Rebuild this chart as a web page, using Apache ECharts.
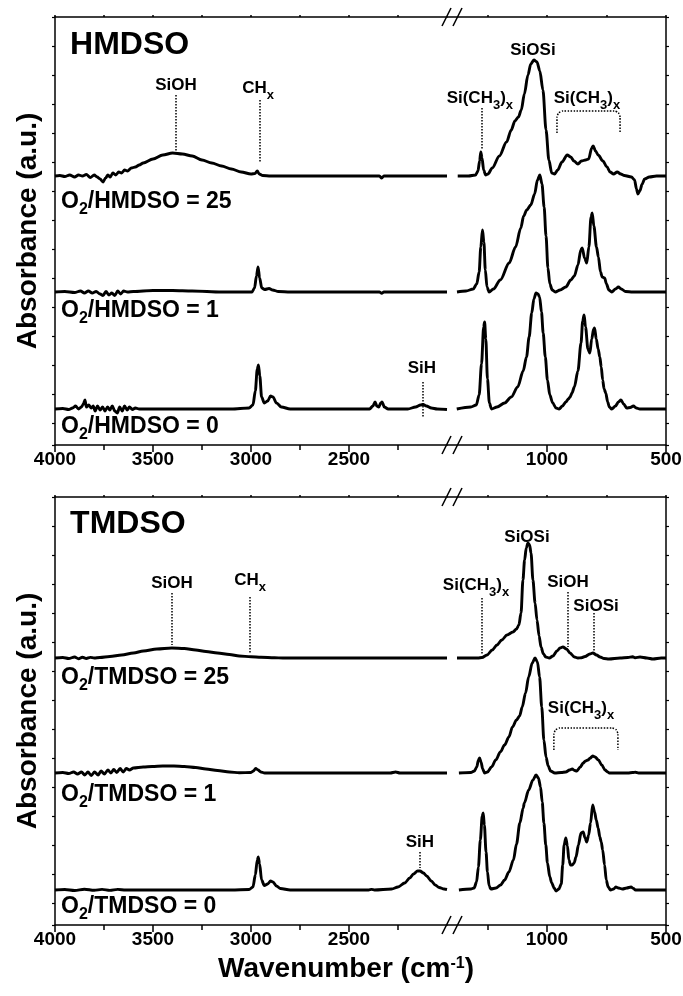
<!DOCTYPE html>
<html><head><meta charset="utf-8">
<script src="https://cdn.jsdelivr.net/npm/echarts@6/dist/echarts.min.js"></script>
<style>html,body{margin:0;padding:0;background:#fff}#c{width:683px;height:996px}</style>
</head><body><div id="c"></div>
<script>
// ---------------- DATA (wavenumber cm-1, absorbance a.u. relative to each trace baseline) ----------------
const leftMajorTicks = [2500, 3000, 3500, 4000];
const leftMinorTicks = [2250, 2750, 3250, 3750];
const rightMajorTicks = [500, 1000];
const rightMinorTicks = [750, 1250];

const hmdsoOffsets = [2.69, 1.53, 0.36];   // O2/HMDSO = 25, 1, 0
const tmdsoOffsets = [2.67, 1.52, 0.35];   // O2/TMDSO = 25, 1, 0

const hmdso25Left = [[4000,0],[3975,0.005],[3950,-0.005],[3925,0.01],[3900,-0.01],[3880,0.01],[3860,0],[3840,0.015],[3820,-0.015],[3800,0.01],[3785,-0.01],[3770,-0.03],[3755,-0.06],[3742,-0.02],[3730,0.01],[3718,-0.01],[3705,0.03],[3690,0.01],[3675,0.04],[3660,0.03],[3645,0.06],[3630,0.05],[3610,0.08],[3590,0.09],[3570,0.11],[3550,0.13],[3500,0.17],[3450,0.21],[3400,0.23],[3350,0.22],[3300,0.20],[3250,0.16],[3200,0.13],[3150,0.10],[3100,0.07],[3050,0.04],[3000,0.02],[2980,0.025],[2968,0.05],[2958,0.02],[2940,0.005],[2900,0],[2600,0],[2345,0],[2333,-0.02],[2322,0],[2000,0]];
const hmdso25Right = [[1375,0],[1330,0],[1300,0.01],[1290,0.05],[1283,0.15],[1278,0.24],[1273,0.18],[1266,0.06],[1258,0.01],[1248,0.02],[1230,0.08],[1200,0.20],[1170,0.34],[1150,0.46],[1135,0.55],[1120,0.59],[1108,0.66],[1095,0.82],[1080,1.01],[1068,1.12],[1055,1.16],[1042,1.14],[1030,1.05],[1017,0.86],[1004,0.46],[992,0.16],[980,0.03],[968,0.02],[955,0.06],[937,0.14],[915,0.21],[900,0.19],[887,0.15],[870,0.12],[855,0.15],[838,0.16],[825,0.17],[812,0.28],[806,0.30],[796,0.25],[785,0.21],[765,0.15],[748,0.09],[735,0.04],[720,0.02],[705,0.04],[690,0.02],[675,0.005],[645,-0.01],[632,-0.04],[624,-0.13],[618,-0.18],[610,-0.15],[600,-0.08],[590,-0.03],[570,-0.01],[540,0],[500,0]];

const hmdso1Left = [[4000,0],[3950,0.005],[3900,-0.005],[3870,0.01],[3850,-0.01],[3830,0.01],[3810,-0.01],[3790,0.005],[3770,-0.02],[3755,-0.035],[3740,0.005],[3725,-0.03],[3710,-0.01],[3695,-0.035],[3680,0.01],[3665,-0.02],[3650,0.01],[3630,0],[3600,0.005],[3500,0.015],[3400,0.015],[3300,0.01],[3150,0],[2995,0],[2982,0.04],[2972,0.16],[2964,0.25],[2956,0.14],[2945,0.04],[2930,0.025],[2908,0.035],[2890,0.02],[2860,0.005],[2800,0],[2345,0],[2333,-0.012],[2322,0],[2000,0]];
const hmdso1Right = [[1378,0],[1340,0.01],[1310,0.03],[1295,0.08],[1285,0.2],[1278,0.45],[1271,0.62],[1265,0.5],[1259,0.22],[1252,0.05],[1243,0],[1225,0.03],[1196,0.12],[1159,0.29],[1132,0.45],[1110,0.64],[1098,0.76],[1085,0.82],[1068,0.87],[1052,0.98],[1040,1.12],[1030,1.17],[1021,1.08],[1012,0.85],[1004,0.56],[996,0.24],[988,0.08],[978,0.02],[965,0],[945,0.02],[921,0.05],[900,0.12],[885,0.16],[870,0.27],[858,0.42],[852,0.44],[842,0.34],[833,0.29],[824,0.45],[815,0.75],[810,0.79],[803,0.66],[792,0.45],[784,0.35],[775,0.2],[768,0.15],[758,0.14],[750,0.08],[740,0.02],[728,0],[712,0.03],[700,0.05],[688,0.03],[670,0.005],[640,0],[500,0]];

const hmdso0Left = [[4000,0],[3960,0.005],[3930,-0.005],[3910,0.01],[3895,0.03],[3880,0],[3865,0.02],[3855,0.05],[3847,0.09],[3840,0.02],[3828,0.04],[3815,0.01],[3805,0.03],[3795,-0.02],[3783,0.03],[3770,-0.01],[3757,0.02],[3745,-0.02],[3732,0.02],[3720,-0.01],[3708,0.03],[3695,-0.02],[3682,-0.04],[3670,0.02],[3657,-0.02],[3645,0.03],[3632,-0.01],[3620,0.02],[3605,-0.005],[3590,0.01],[3570,0],[3100,0],[3010,0.01],[2990,0.04],[2978,0.18],[2968,0.40],[2962,0.44],[2955,0.33],[2946,0.12],[2932,0.06],[2915,0.08],[2900,0.13],[2888,0.12],[2870,0.06],[2845,0.02],[2800,0],[2395,0],[2378,0.03],[2367,0.07],[2358,0.03],[2348,0.02],[2338,0.06],[2331,0.07],[2320,0.02],[2300,0],[2200,0],[2160,0.02],[2135,0.04],[2122,0.045],[2105,0.03],[2080,0.01],[2050,0],[2000,-0.005]];
const hmdso0Right = [[1379,0],[1320,0.02],[1297,0.04],[1285,0.14],[1275,0.45],[1266,0.82],[1262,0.87],[1257,0.7],[1250,0.3],[1242,0.06],[1233,0],[1210,0.02],[1178,0.06],[1150,0.12],[1123,0.22],[1100,0.38],[1086,0.52],[1075,0.72],[1064,0.96],[1055,1.10],[1046,1.16],[1038,1.15],[1031,1.12],[1023,0.97],[1016,0.76],[1007,0.52],[998,0.29],[988,0.14],[976,0.06],[962,0.01],[949,0],[935,0.03],[921,0.07],[910,0.10],[903,0.12],[895,0.16],[885,0.22],[870,0.38],[857,0.66],[850,0.88],[844,0.94],[838,0.82],[828,0.6],[820,0.56],[812,0.70],[804,0.80],[800,0.81],[793,0.7],[785,0.6],[778,0.52],[772,0.42],[766,0.29],[760,0.2],[753,0.16],[745,0.07],[738,0.02],[728,0],[712,0.03],[700,0.07],[689,0.09],[678,0.05],[665,0.01],[650,0.015],[637,0.03],[625,0.01],[610,0],[500,0]];

const tmdso25Left = [[4000,0],[3960,0.005],[3930,-0.005],[3900,0.01],[3880,-0.008],[3860,0.008],[3840,-0.005],[3820,0.006],[3800,0],[3771,0.005],[3720,0.015],[3660,0.03],[3600,0.05],[3549,0.07],[3480,0.09],[3404,0.10],[3340,0.095],[3282,0.08],[3230,0.065],[3171,0.05],[3110,0.035],[3060,0.02],[3000,0.012],[2949,0.007],[2880,0.002],[2838,0],[2000,0]];
const tmdso25Right = [[1378,0],[1290,0],[1273,0.005],[1252,0.03],[1230,0.08],[1210,0.13],[1190,0.18],[1168,0.23],[1143,0.26],[1128,0.29],[1118,0.33],[1109,0.45],[1101,0.78],[1094,0.98],[1087,1.1],[1080,1.15],[1073,1.13],[1067,1.05],[1059,0.78],[1050,0.55],[1042,0.38],[1033,0.22],[1025,0.11],[1015,0.04],[1005,0.01],[990,0],[975,0.02],[958,0.07],[945,0.10],[933,0.11],[918,0.09],[903,0.05],[885,0.01],[870,0],[855,0.002],[840,0.015],[820,0.04],[807,0.05],[792,0.03],[777,0.01],[760,-0.005],[740,-0.01],[693,0],[660,0.005],[640,0.012],[630,0.002],[609,0.01],[580,0],[555,-0.01],[520,0],[500,0]];

const tmdso1Left = [[4000,0],[3960,0.005],[3930,-0.005],[3905,0.01],[3885,-0.01],[3865,0.01],[3848,-0.02],[3832,0.01],[3815,-0.025],[3798,0.01],[3780,-0.02],[3765,0.02],[3748,-0.01],[3730,0.03],[3715,0.0],[3700,0.035],[3685,0.005],[3668,0.045],[3652,0.01],[3636,0.045],[3620,0.03],[3600,0.05],[3550,0.06],[3504,0.065],[3450,0.07],[3393,0.07],[3340,0.065],[3282,0.055],[3230,0.04],[3171,0.025],[3110,0.01],[3060,0.003],[3000,0.005],[2988,0.02],[2976,0.045],[2964,0.03],[2950,0.01],[2930,0],[2290,0],[2262,0.01],[2240,0],[2000,0]];
const tmdso1Right = [[1370,0],[1320,0.005],[1305,0.02],[1295,0.06],[1288,0.13],[1283,0.15],[1277,0.11],[1270,0.04],[1262,0],[1250,0.01],[1233,0.06],[1215,0.13],[1196,0.21],[1178,0.28],[1160,0.36],[1145,0.46],[1128,0.53],[1115,0.57],[1104,0.66],[1090,0.80],[1077,0.96],[1062,1.10],[1050,1.15],[1040,1.11],[1031,0.96],[1022,0.66],[1013,0.33],[1004,0.16],[995,0.07],[985,0.02],[967,0],[940,0.005],[921,0.01],[905,0.03],[894,0.04],[884,0.025],[875,0.02],[860,0.06],[848,0.10],[838,0.12],[828,0.13],[818,0.15],[808,0.17],[798,0.16],[784,0.13],[770,0.08],[756,0.03],[745,0.01],[738,0],[660,0],[640,0.005],[628,0.008],[615,0],[500,0]];

const tmdso0Left = [[4000,0],[3950,0.005],[3900,-0.005],[3850,0.008],[3800,-0.003],[3760,0.006],[3720,-0.004],[3680,0.006],[3640,0],[3100,0],[3010,0.005],[2990,0.03],[2978,0.15],[2968,0.30],[2963,0.33],[2956,0.26],[2946,0.10],[2932,0.045],[2915,0.06],[2900,0.09],[2888,0.08],[2870,0.04],[2850,0.015],[2800,0],[2400,0],[2385,0.006],[2370,0],[2282,0.01],[2250,0.03],[2216,0.07],[2190,0.12],[2171,0.16],[2150,0.19],[2138,0.19],[2120,0.17],[2104,0.14],[2080,0.09],[2060,0.05],[2040,0.025],[2015,0.01],[2000,0.005]];
const tmdso0Right = [[1370,0],[1320,0.01],[1306,0.02],[1296,0.08],[1288,0.23],[1280,0.5],[1272,0.74],[1268,0.77],[1263,0.65],[1256,0.38],[1250,0.18],[1243,0.04],[1236,0.01],[1214,0.02],[1195,0.05],[1178,0.10],[1160,0.18],[1141,0.30],[1128,0.46],[1114,0.67],[1100,0.82],[1095,0.87],[1077,1.00],[1059,1.10],[1046,1.15],[1036,1.12],[1027,1.03],[1020,0.88],[1013,0.67],[1005,0.45],[998,0.27],[988,0.13],[980,0.07],[970,0.02],[962,-0.01],[950,0.01],[940,0.06],[934,0.25],[928,0.45],[921,0.52],[914,0.44],[908,0.30],[901,0.25],[894,0.25],[886,0.27],[878,0.33],[868,0.45],[857,0.57],[848,0.58],[840,0.52],[833,0.48],[825,0.55],[817,0.67],[808,0.85],[800,0.78],[793,0.70],[785,0.62],[778,0.53],[772,0.48],[766,0.40],[758,0.25],[751,0.10],[743,0.03],[733,0],[720,0.01],[711,0.03],[700,0.02],[683,0.01],[665,0.02],[647,0.03],[637,0.015],[628,0],[500,0]];

// ---------------- LAYOUT / STYLE ----------------
const FONT = 'Liberation Sans, Arial, Helvetica, sans-serif';
const PANEL_TOP = [17, 497];
const GRID_H = 428;
const SEG = [{left: 55, width: 392}, {left: 447, width: 219}];
const X_RANGE = [[2000, 4000], [500, 1420]];
const MAJOR = [leftMajorTicks, rightMajorTicks];
const MINOR = [leftMinorTicks, rightMinorTicks];
const Y_MAX = 4.28, Y_TICK = 0.29;
const AX = {color: '#000', width: 1.5};

const traces = [
  {panel: 0, offset: hmdsoOffsets[0], seg: [hmdso25Left, hmdso25Right]},
  {panel: 0, offset: hmdsoOffsets[1], seg: [hmdso1Left, hmdso1Right]},
  {panel: 0, offset: hmdsoOffsets[2], seg: [hmdso0Left, hmdso0Right]},
  {panel: 1, offset: tmdsoOffsets[0], seg: [tmdso25Left, tmdso25Right]},
  {panel: 1, offset: tmdsoOffsets[1], seg: [tmdso1Left, tmdso1Right]},
  {panel: 1, offset: tmdsoOffsets[2], seg: [tmdso0Left, tmdso0Right]}
];

const RICH = {
  T: {fontSize: 32, fontWeight: 'bold', fontFamily: FONT, color: '#000', lineHeight: 36},
  r: {fontSize: 23, fontWeight: 'bold', fontFamily: FONT, color: '#000', lineHeight: 31},
  rs: {fontSize: 16, fontWeight: 'bold', fontFamily: FONT, color: '#000', lineHeight: 16, verticalAlign: 'bottom'},
  b: {fontSize: 17, fontWeight: 'bold', fontFamily: FONT, color: '#000', lineHeight: 27},
  bs: {fontSize: 13, fontWeight: 'bold', fontFamily: FONT, color: '#000', lineHeight: 13, verticalAlign: 'bottom'}
};
const SICH3 = '{b|Si(CH}{bs|3}{b|)}{bs|x}';
const ratio = (name, v) => '{r|O}{rs|2}{r|/' + name + ' = ' + v + '}';

// annotations per grid (panel*2 + segment), in data coordinates
const annotations = [
  { labels: [
      {t: '{T|HMDSO}', c: [3923, 4.00], left: true},
      {t: '{b|SiOH}', c: [3383, 3.60]},
      {t: '{b|CH}{bs|x}', c: [2964, 3.57]},
      {t: ratio('HMDSO', 25), c: [3969, 2.43], left: true},
      {t: ratio('HMDSO', 1), c: [3969, 1.34], left: true},
      {t: ratio('HMDSO', 0), c: [3969, 0.18], left: true},
      {t: '{b|SiH}', c: [2128, 0.77]}],
    vlines: [[3383, 3.50, 2.93], [2954, 3.45, 2.82], [2122, 0.63, 0.28]],
    brackets: [] },
  { labels: [
      {t: SICH3, c: [1282, 3.47]},
      {t: '{b|SiOSi}', c: [1059, 3.95]},
      {t: SICH3, c: [832, 3.47]}],
    vlines: [[1273, 3.37, 2.95]],
    brackets: [[958, 693, 3.34, 3.12]] },
  { labels: [
      {t: '{T|TMDSO}', c: [3923, 4.01], left: true},
      {t: '{b|SiOH}', c: [3403, 3.42]},
      {t: '{b|CH}{bs|x}', c: [3005, 3.45]},
      {t: ratio('TMDSO', 25), c: [3969, 2.47], left: true},
      {t: ratio('TMDSO', 1), c: [3969, 1.30], left: true},
      {t: ratio('TMDSO', 0), c: [3969, 0.18], left: true},
      {t: '{b|SiH}', c: [2138, 0.83]}],
    vlines: [[3403, 3.32, 2.80], [3005, 3.28, 2.72], [2138, 0.73, 0.57]],
    brackets: [] },
  { labels: [
      {t: SICH3, c: [1298, 3.40]},
      {t: '{b|SiOSi}', c: [1084, 3.88]},
      {t: '{b|SiOH}', c: [912, 3.43]},
      {t: '{b|SiOSi}', c: [794, 3.19]},
      {t: SICH3, c: [857, 2.17]}],
    vlines: [[1273, 3.27, 2.70], [912, 3.33, 2.78], [803, 3.12, 2.73]],
    brackets: [[971, 702, 1.97, 1.75]] }
];

// ---------------- BUILD OPTION ----------------
const grid = [], xAxis = [], yAxis = [], series = [];
for (let p = 0; p < 2; p++) {
  for (let s = 0; s < 2; s++) {
    const gi = p * 2 + s;
    grid.push({left: SEG[s].left, width: SEG[s].width, top: PANEL_TOP[p], height: GRID_H,
               containLabel: false, outerBoundsMode: 'none'});
    const base = {gridIndex: gi, type: 'value', min: X_RANGE[s][0], max: X_RANGE[s][1], inverse: true,
                  splitLine: {show: false}, axisPointer: {show: false}};
    xAxis.push(Object.assign({}, base, {
      position: 'bottom',
      axisLine: {show: true, onZero: false, lineStyle: AX},
      axisTick: {show: true, customValues: MAJOR[s], length: 7, lineStyle: AX},
      axisLabel: {show: true, customValues: MAJOR[s], margin: 5, fontSize: 19, fontWeight: 'bold',
                  color: '#000', fontFamily: FONT, formatter: v => String(v)}
    }));
    xAxis.push(Object.assign({}, base, {
      position: 'bottom',
      axisLine: {show: false, onZero: false},
      axisTick: {show: true, customValues: MINOR[s], length: 5, lineStyle: AX},
      axisLabel: {show: false}
    }));
    xAxis.push(Object.assign({}, base, {
      position: 'top',
      axisLine: {show: true, onZero: false, lineStyle: AX},
      axisTick: {show: true, customValues: MAJOR[s].concat(MINOR[s]), length: 2, lineStyle: AX},
      axisLabel: {show: false}
    }));
    const side = s === 0 ? 'left' : 'right';
    const yData = {gridIndex: gi, type: 'value', min: 0, max: Y_MAX, position: side,
      axisLine: {show: true, onZero: false, lineStyle: AX}, axisTick: {show: false},
      axisLabel: {show: false}, splitLine: {show: false}};
    if (s === 0) {
      Object.assign(yData, {name: 'Absorbance (a.u.)', nameLocation: 'middle', nameGap: 13,
        nameTextStyle: {fontSize: 28, fontWeight: 'bold', fontFamily: FONT, color: '#000'}});
    }
    yAxis.push(yData);
    yAxis.push({gridIndex: gi, type: 'value', inverse: true, min: 0, max: Y_MAX, interval: Y_TICK,
      position: side, axisLine: {show: false, onZero: false},
      axisTick: {show: true, length: 3, lineStyle: {color: '#000', width: 1.2}},
      axisLabel: {show: false}, splitLine: {show: false}});
  }
}

const DOT = {color: '#000', width: 1.5, type: [1.5, 1.5]};
const firstOfGrid = {};
traces.forEach((tr, ti) => {
  for (let s = 0; s < 2; s++) {
    const gi = tr.panel * 2 + s;
    const ser = {
      type: 'line', xAxisIndex: gi * 3, yAxisIndex: gi * 2,
      data: tr.seg[s].map(d => [d[0], +(d[1] + tr.offset).toFixed(4)]),
      showSymbol: false, symbol: 'none', smooth: 0.3, smoothMonotone: 'x',
      lineStyle: {color: '#000', width: 2.9}, silent: true, animation: false, z: 3
    };
    if (!(gi in firstOfGrid)) {
      firstOfGrid[gi] = true;
      const ann = annotations[gi];
      ser.markPoint = {
        symbol: 'circle', symbolSize: 0, silent: true, animation: false,
        itemStyle: {color: 'rgba(0,0,0,0)'},
        data: ann.labels.map(l => ({
          coord: l.c,
          label: {show: true, position: l.left ? 'right' : 'inside', distance: 0,
                  formatter: l.t, rich: RICH, color: '#000', fontFamily: FONT}
        }))
      };
      ser.markLine = {
        symbol: ['none', 'none'], silent: true, animation: false, label: {show: false},
        lineStyle: DOT, emphasis: {disabled: true},
        data: ann.vlines.map(v => [{coord: [v[0], v[1]]}, {coord: [v[0], v[2]]}])
      };
    }
    series.push(ser);
  }
});

// bracket annotations (dotted, rounded corners)
annotations.forEach((ann, gi) => {
  ann.brackets.forEach(b => {
    const [wl, wr, at, ab] = b;
    const dw = 24, da = 0.06;
    const pts = [[wl, ab], [wl, at - da], [wl - dw * 0.3, at - da * 0.3], [wl - dw, at],
                 [wr + dw, at], [wr + dw * 0.3, at - da * 0.3], [wr, at - da], [wr, ab]];
    series.push({type: 'line', xAxisIndex: gi * 3, yAxisIndex: gi * 2, data: pts,
      showSymbol: false, symbol: 'none', smooth: 0.2, lineStyle: DOT, silent: true, animation: false});
  });
});

// break marks and x-axis title
const graphic = [];
for (let p = 0; p < 2; p++) {
  [PANEL_TOP[p], PANEL_TOP[p] + GRID_H].forEach(y => {
    graphic.push({type: 'line', shape: {x1: 442, y1: y + 9, x2: 451, y2: y - 9},
                  style: {stroke: '#000', lineWidth: 1.5}, z: 10});
    graphic.push({type: 'line', shape: {x1: 453, y1: y + 9, x2: 462, y2: y - 9},
                  style: {stroke: '#000', lineWidth: 1.5}, z: 10});
  });
}
graphic.push({type: 'text', x: 346, y: 969, z: 10, style: {
  text: '{m|Wavenumber (cm}{s|-1}{m|)}',
  rich: {m: {fontSize: 28, fontWeight: 'bold', fontFamily: FONT, fill: '#000', lineHeight: 27},
         s: {fontSize: 16, fontWeight: 'bold', fontFamily: FONT, fill: '#000', lineHeight: 16, verticalAlign: 'top'}},
  align: 'center', verticalAlign: 'middle', fill: '#000'}});

const chart = echarts.init(document.getElementById('c'), null, {renderer: 'canvas', width: 683, height: 996});
chart.setOption({
  animation: false,
  backgroundColor: '#fff',
  textStyle: {fontFamily: FONT},
  grid, xAxis, yAxis, series, graphic
});
</script>
</body></html>
